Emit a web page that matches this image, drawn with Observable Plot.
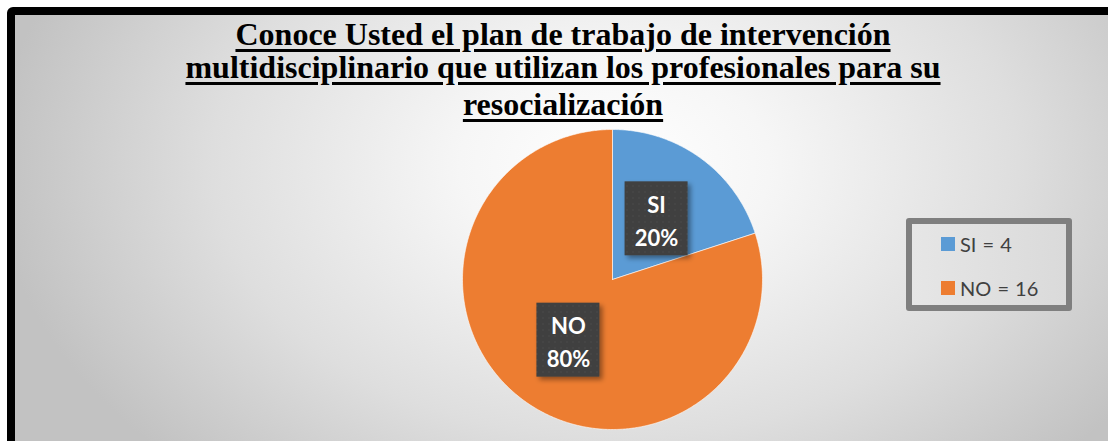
<!DOCTYPE html>
<html>
<head>
<meta charset="utf-8">
<script src="https://cdn.jsdelivr.net/npm/d3@7"></script>
<script src="https://cdn.jsdelivr.net/npm/@observablehq/plot@0.6"></script>
<style>
  html, body { margin: 0; padding: 0; background: #fff; }
  #page { position: relative; width: 1108px; height: 441px; overflow: hidden; background: #fff; }
  #frame {
    position: absolute; left: 7px; top: 7px; width: 1120px; height: 446px;
    box-sizing: border-box; border: 8px solid #000; border-radius: 6px;
    background: radial-gradient(ellipse 620px 420px at 600px 150px, #ffffff 0%, #f6f6f6 25%, #dedede 65%, #c2c2c2 100%);
  }
  .tl {
    position: absolute; left: 0; width: 1126px; text-align: center;
    font-family: "Liberation Serif", "Times New Roman", serif; font-weight: bold;
    font-size: 32px; line-height: 32px; color: #000; white-space: nowrap;
  }
  .tl span { text-decoration: underline; text-decoration-thickness: 3px; text-underline-offset: 4px; }
  #chart { position: absolute; left: 462px; top: 129px; }
  #legend {
    position: absolute; left: 906px; top: 218px; width: 166px; height: 93px;
    box-sizing: border-box; border: 6px solid #7f7f7f; border-radius: 3px;
    background: linear-gradient(90deg, #e6e6e6, #dadada);
    font-family: Lato, "Open Sans", sans-serif; font-size: 20px; color: #404040;
  }
  .row { position: absolute; left: 29px; display: flex; align-items: center; white-space: nowrap; word-spacing: 1px; }
  .sw { width: 14px; height: 14px; margin-right: 5px; }
</style>
</head>
<body>
<div id="page">
  <div id="frame"></div>
  <div id="title"></div>
  <div id="chart"></div>
  <div id="legend"></div>
</div>
<script>
const titleLines = [
  "Conoce Usted el plan de trabajo de intervención",
  "multidisciplinario que utilizan los profesionales para su",
  "resocialización"
];
const categories = ["SI", "NO"];
const counts = [4, 16];
const percentLabels = ["20%", "80%"];
const legendLabels = ["SI = 4", "NO = 16"];
const colors = ["#5B9BD5", "#ED7D31"];

// title lines
const titleTops = [18, 51, 88];
const titleEl = document.getElementById("title");
titleLines.forEach((t, i) => {
  const d = document.createElement("div");
  d.className = "tl";
  d.style.top = titleTops[i] + "px";
  d.innerHTML = `<span>${t}</span>`;
  titleEl.appendChild(d);
});

// pie geometry from the values
const arcs = d3.pie().sort(null)(counts);
const slicePts = [];
arcs.forEach((a, i) => {
  const n = Math.max(2, Math.ceil((a.endAngle - a.startAngle) / 0.01));
  slicePts.push({cat: categories[i], x: 0, y: 0});
  for (let k = 0; k <= n; k++) {
    const t = a.startAngle + (a.endAngle - a.startAngle) * k / n;
    slicePts.push({cat: categories[i], x: Math.sin(t), y: Math.cos(t)});
  }
  slicePts.push({cat: categories[i], x: 0, y: 0});
});
const labels = arcs.map((a, i) => {
  const m = (a.startAngle + a.endAngle) / 2;
  return {cat: categories[i], text: categories[i] + "\n" + percentLabels[i], x: 0.5 * Math.sin(m), y: 0.5 * Math.cos(m)};
});

function labelBoxes(index, scales, values, dims) {
  const g = d3.create("svg:g");
  const defs = g.append("defs");
  const pat = defs.append("pattern").attr("id", "dotpat").attr("patternUnits", "userSpaceOnUse")
    .attr("width", 6).attr("height", 6);
  pat.append("rect").attr("width", 6).attr("height", 6).attr("fill", "#3f3f3f");
  pat.append("circle").attr("cx", 3).attr("cy", 3).attr("r", 0.8).attr("fill", "#4c4c4c");
  const f = defs.append("filter").attr("id", "shd").attr("x", "-30%").attr("y", "-30%").attr("width", "160%").attr("height", "160%");
  f.append("feDropShadow").attr("dx", 3).attr("dy", 3).attr("stdDeviation", 2.5)
    .attr("flood-color", "#000").attr("flood-opacity", 0.4);
  for (const i of index) {
    g.append("rect")
      .attr("x", values.x[i] - 31.5).attr("y", values.y[i] - 37)
      .attr("width", 63).attr("height", 74)
      .attr("fill", "url(#dotpat)").attr("filter", "url(#shd)");
  }
  return g.node();
}

const plot = Plot.plot({
  width: 300, height: 300, margin: 0,
  x: {domain: [-1, 1], axis: null},
  y: {domain: [-1, 1], axis: null},
  color: {domain: categories, range: colors},
  style: {background: "transparent", overflow: "visible"},
  marks: [
    Plot.line(slicePts, {x: "x", y: "y", z: "cat", fill: "cat", stroke: "#ffffff", strokeOpacity: 0.6, strokeWidth: 1, curve: "linear"}),
    Plot.dot(labels, {x: "x", y: "y", render: labelBoxes}),
    Plot.text(labels, {x: "x", y: "y", text: "text", fill: "#ffffff", fontSize: 22, fontWeight: "bold",
      fontFamily: "Lato, 'Open Sans', sans-serif", lineHeight: 1.5})
  ]
});
document.getElementById("chart").appendChild(plot);

// legend
const legend = document.getElementById("legend");
legendLabels.forEach((l, i) => {
  const row = document.createElement("div");
  row.className = "row";
  row.style.top = (i === 0 ? 8 : 52) + "px";
  row.innerHTML = `<div class="sw" style="background:${colors[i]}"></div><span>${l}</span>`;
  legend.appendChild(row);
});
</script>
</body>
</html>
